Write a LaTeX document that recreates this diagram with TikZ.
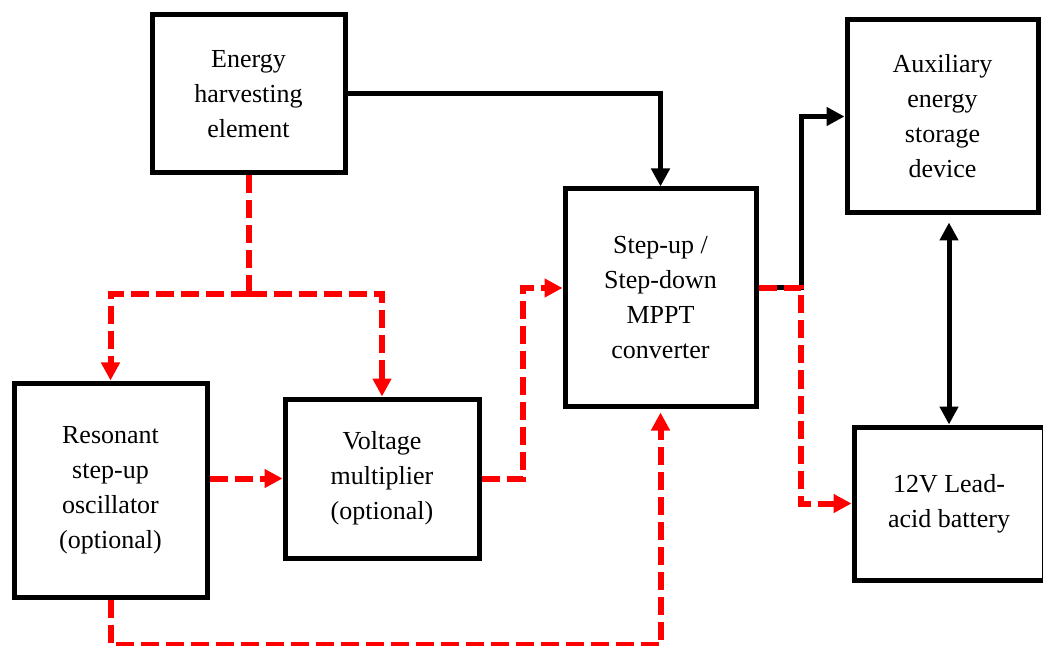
\documentclass[tikz,border=0pt]{standalone}
\usepackage{fontspec}
\setmainfont{Liberation Serif}
\usetikzlibrary{positioning, arrows.meta, calc}
\definecolor{boost}{HTML}{FF0000}
\definecolor{power}{HTML}{000000}
\tikzset{
  block/.style    = {rectangle, draw=power, line width=2.5pt, fill=white,
                     align=center, inner sep=2pt,
                     font=\fontsize{13}{17.5}\selectfont},
  flow/.style     = {-{Triangle[length=9pt,width=9pt]}, line width=2.5pt, draw=power},
  twoway/.style   = {{Triangle[length=9pt,width=9pt]}-{Triangle[length=9pt,width=9pt]},
                     line width=2.5pt, draw=power},
  aux/.style      = {line width=3pt, draw=boost, dash pattern=on 9pt off 3.5pt},
  auxarr/.style   = {aux, -{Triangle[length=9pt,width=9pt]}},
}

\begin{document}
\begin{tikzpicture}[x=0.5pt, y=-0.5pt]
  \useasboundingbox (0,0) rectangle (1043,646);

  % blocks
  \node[block, minimum width=96.5pt, minimum height=79pt] (harv) at (248.5,94)
       {Energy\\harvesting\\element};
  \node[block, minimum width=95.5pt, minimum height=108.5pt] (mppt) at (660.5,297.5)
       {Step-up /\\Step-down\\MPPT\\converter};
  \node[block, minimum width=95.5pt, minimum height=96.5pt] (store) at (942.5,116.5)
       {Auxiliary\\energy\\storage\\device};
  \node[block, minimum width=95pt, minimum height=76.5pt] (batt) at (949,503.5)
       {12V Lead-\\acid battery};
  \node[block, minimum width=96.5pt, minimum height=107pt] (osc) at (110.5,490)
       {Resonant\\step-up\\oscillator\\(optional)};
  \node[block, minimum width=97pt, minimum height=79.5pt] (mult) at (382,478.5)
       {Voltage\\multiplier\\(optional)};

  \coordinate (fork) at (248.5,294);
  \coordinate (split) at (801,288);

  % main power path
  \draw[flow] (harv.east) -| (mppt.north);
  \draw[flow] (mppt.east |- split) -- (split) |- (store.west);
  \draw[twoway, shorten <=3.5pt] (store.south -| batt.north) -- (batt.north);

  % low-voltage start-up path
  \draw[aux] (harv.south) -- (fork);
  \draw[auxarr] (fork) -| (osc.north);
  \draw[auxarr] (fork) -| (mult.north);
  \draw[auxarr] (osc.east |- mult.west) -- (mult.west);
  \draw[auxarr] (mult.east) -- ++(41,0) |- (mppt.west |- split);
  \draw[auxarr, shorten >=2pt] (osc.south) -- ++(0,45) -| (mppt.south);
  \draw[auxarr] (mppt.east |- split) -- (split) |- (batt.west);

\end{tikzpicture}
\end{document}
